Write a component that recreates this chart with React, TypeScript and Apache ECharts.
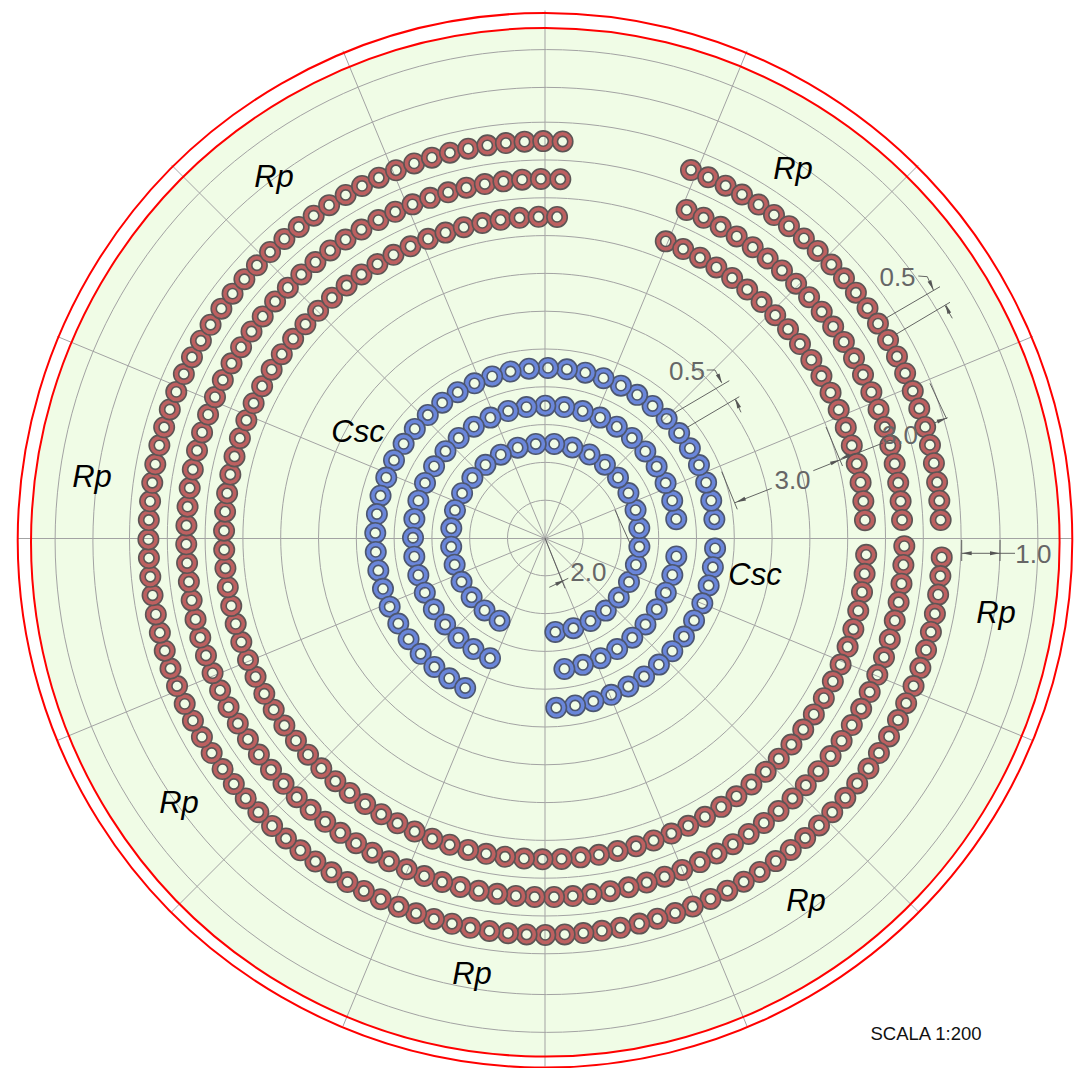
import React, { useEffect, useRef } from "react";
import * as echarts from "echarts";

// Radii are in metres-like units (one grid ring = 1.0); angles are degrees clockwise from north.
const rpOuterLongRadius = 10.5;
const rpOuterLongAngles = [92.8,95.5,98.2,101.0,103.7,106.4,109.1,111.9,114.6,117.3,120.0,122.8,125.5,128.2,130.9,133.7,136.4,139.1,141.8,144.5,147.3,150.0,152.7,155.4,158.2,160.9,163.6,166.3,169.1,171.8,174.5,177.2,180.0,182.7,185.4,188.1,190.9,193.6,196.3,199.0,201.7,204.5,207.2,209.9,212.6,215.4,218.1,220.8,223.5,226.3,229.0,231.7,234.4,237.2,239.9,242.6,245.3,248.1,250.8,253.5,256.2,258.9,261.7,264.4,267.1,269.8,272.6,275.3,278.0,280.7,283.5,286.2,288.9,291.6,294.4,297.1,299.8,302.5,305.3,308.0,310.7,313.4,316.1,318.9,321.6,324.3,327.0,329.8,332.5,335.2,337.9,340.7,343.4,346.1,348.8,351.6,354.3,357.0,359.7,2.5];
const rpMiddleLongRadius = 9.5;
const rpMiddleLongAngles = [91.3,94.3,97.3,100.3,103.3,106.4,109.4,112.4,115.4,118.4,121.4,124.4,127.4,130.5,133.5,136.5,139.5,142.5,145.5,148.5,151.5,154.5,157.6,160.6,163.6,166.6,169.6,172.6,175.6,178.6,181.7,184.7,187.7,190.7,193.7,196.7,199.7,202.7,205.8,208.8,211.8,214.8,217.8,220.8,223.8,226.8,229.8,232.9,235.9,238.9,241.9,244.9,247.9,250.9,253.9,256.9,260.0,263.0,266.0,269.0,272.0,275.0,278.0,281.0,284.1,287.1,290.1,293.1,296.1,299.1,302.1,305.1,308.1,311.2,314.2,317.2,320.2,323.2,326.2,329.2,332.3,335.3,338.3,341.3,344.3,347.3,350.3,353.3,356.3,359.3,2.4];
const rpInnerLongRadius = 8.5;
const rpInnerLongAngles = [93.0,96.4,99.7,103.1,106.5,109.8,113.2,116.5,119.9,123.3,126.6,130.0,133.4,136.7,140.1,143.5,146.8,150.2,153.6,156.9,160.3,163.6,167.0,170.4,173.7,177.1,180.5,183.8,187.2,190.6,193.9,197.3,200.6,204.0,207.4,210.7,214.1,217.5,220.8,224.2,227.6,230.9,234.3,237.7,241.0,244.4,247.7,251.1,254.5,257.8,261.2,264.6,267.9,271.3,274.7,278.0,281.4,284.7,288.1,291.5,294.8,298.2,301.6,304.9,308.3,311.7,315.0,318.4,321.8,325.1,328.5,331.8,335.2,338.6,341.9,345.3,348.7,352.0,355.4,358.8,2.1];
const rpOuterShortRadius = 10.47;
const rpOuterShortAngles = [21.6,24.3,27.1,29.8,32.6,35.3,38.0,40.8,43.5,46.3,49.0,51.7,54.5,57.2,60.0,62.7,65.4,68.2,70.9,73.7,76.4,79.1,81.9,84.6,87.4];
const rpMiddleShortRadius = 9.45;
const rpMiddleShortAngles = [23.3,26.3,29.4,32.4,35.5,38.5,41.5,44.6,47.6,50.7,53.7,56.7,59.8,62.8,65.9,68.9,71.9,75.0,78.0,81.1,84.1,87.1];
const rpInnerShortRadius = 8.47;
const rpInnerShortAngles = [22.1,25.5,28.9,32.3,35.7,39.1,42.5,45.9,49.3,52.7,56.2,59.6,63.0,66.4,69.8,73.2,76.6,80.0,83.4,86.8];

const cscOuterRadius = 4.5;
const cscOuterLongAngles = [83.7,77.3,71.0,64.6,58.2,51.9,45.5,39.1,32.7,26.4,20.0,13.6,7.3,0.9,354.5,348.2,341.8,335.4,329.0,322.7,316.3,309.9,303.6,297.2,290.8,284.4,278.1,271.7,265.3,259.0,252.6,246.2,239.8,233.5,227.1,220.7,214.4,208.1];
const cscOuterShortAngles = [93.5,99.9,106.2,112.6,119.0,125.4,131.7,138.1,144.5,150.8,157.2,163.6,169.9,176.3];
const cscMiddleRadius = 3.5;
const cscMiddleLongAngles = [81.8,73.6,65.4,57.3,49.1,40.9,32.7,24.5,16.4,8.2,0.0,351.8,343.7,335.5,327.3,319.1,311.0,302.8,294.6,286.4,278.3,270.1,261.9,253.7,245.6,237.4,229.2,221.0,212.9,204.7];
const cscMiddleShortAngles = [98.0,106.2,114.4,122.6,130.8,138.9,147.1,155.3,163.5,171.7];
const cscInnerRadius = 2.5;
const cscInnerAngles = [173.9,162.7,151.4,140.2,129.0,117.7,106.5,95.3,84.0,72.8,61.6,50.3,39.1,27.9,16.6,5.4,354.2,343.0,331.9,320.7,309.5,298.3,287.1,275.9,264.7,253.6,242.4,231.2,220.0,208.9];

const rpLabels = [[274, 176], [793, 168], [92, 476], [996, 612], [179, 802], [806, 900], [472, 973]];
const cscLabels = [[358, 431], [755, 574]];

const ringUnit = 37.8;
const dotPath = "path://M10,0A10,10,0,1,1,-10,0A10,10,0,1,1,10,0ZM5,0A5,5,0,1,0,-5,0A5,5,0,1,0,5,0Z";
const DIM = "#555555";
const DIM_TEXT = "#666666";
const FONT = "Liberation Sans";

const arc = (radius: number, angles: number[]) => angles.map((a) => [radius, a]);

function seg(x1: number, y1: number, x2: number, y2: number) {
  return { type: "line", z: 10, silent: true, shape: { x1, y1, x2, y2 }, style: { stroke: DIM, lineWidth: 0.9 } };
}
function head(tx: number, ty: number, fx: number, fy: number) {
  const dx = fx - tx, dy = fy - ty;
  const l = Math.hypot(dx, dy) || 1;
  const ux = dx / l, uy = dy / l;
  const len = 10, w = 2;
  return {
    type: "polygon", z: 10, silent: true,
    shape: { points: [[tx, ty], [tx + ux * len - uy * w, ty + uy * len + ux * w], [tx + ux * len + uy * w, ty + uy * len - ux * w]] },
    style: { fill: DIM },
  };
}
function dimText(text: string, x: number, y: number) {
  return { type: "text", z: 11, silent: true, style: { text, x, y, align: "center", verticalAlign: "middle", fontSize: 26, fontFamily: FONT, fill: DIM_TEXT } };
}
function label(text: string, x: number, y: number) {
  return { type: "text", z: 11, silent: true, style: { text, x, y, align: "center", verticalAlign: "middle", fontSize: 31, fontStyle: "italic", fontFamily: FONT, fill: "#000" } };
}

const hiddenAxisBits = { axisLine: { show: false }, axisTick: { show: false }, axisLabel: { show: false } };

export default function App() {
  const ref = useRef<HTMLDivElement>(null);
  useEffect(() => {
    const chart = echarts.init(ref.current!, undefined, { renderer: "svg" });
    const ringLine = { show: true, lineStyle: { color: "#a3a3a3", width: 1 } };
    chart.setOption({
      animation: false,
      backgroundColor: "#ffffff",
      polar: [
        { center: [545, 538.5], radius: 528 },
        { center: [545.3, 538], radius: ringUnit * 11 },
        { center: [546.5, 541], radius: [ringUnit * 12, ringUnit * 13] },
      ],
      angleAxis: [
        { polarIndex: 0, min: 0, max: 360, interval: 22.5, startAngle: 90, clockwise: true, ...hiddenAxisBits, splitLine: { show: true, lineStyle: { color: "#a3a3a3", width: 1 } } },
        { polarIndex: 1, min: 0, max: 360, startAngle: 90, clockwise: true, ...hiddenAxisBits, splitLine: { show: false } },
        { polarIndex: 2, min: 0, max: 360, startAngle: 90, clockwise: true, ...hiddenAxisBits, splitLine: { show: false } },
      ],
      radiusAxis: [
        { polarIndex: 0, min: 0, max: 1, ...hiddenAxisBits, splitLine: { show: false } },
        { polarIndex: 1, min: 0, max: 11, interval: 1, ...hiddenAxisBits, splitLine: ringLine },
        { polarIndex: 2, min: 12, max: 13, interval: 1, ...hiddenAxisBits, splitLine: ringLine },
      ],
      series: [
        {
          name: "Rp", type: "scatter", coordinateSystem: "polar", polarIndex: 1, symbol: dotPath, symbolSize: 20.4, silent: true, z: 5,
          itemStyle: { color: "#bd6060", borderColor: "#5c5555", borderWidth: 1.6, opacity: 1 },
          data: [
            ...arc(rpOuterLongRadius, rpOuterLongAngles), ...arc(rpMiddleLongRadius, rpMiddleLongAngles), ...arc(rpInnerLongRadius, rpInnerLongAngles),
            ...arc(rpOuterShortRadius, rpOuterShortAngles), ...arc(rpMiddleShortRadius, rpMiddleShortAngles), ...arc(rpInnerShortRadius, rpInnerShortAngles),
          ],
        },
        {
          name: "Csc", type: "scatter", coordinateSystem: "polar", polarIndex: 1, symbol: dotPath, symbolSize: 20.4, silent: true, z: 5,
          itemStyle: { color: "#6a86da", borderColor: "#4c5670", borderWidth: 1.6, opacity: 1 },
          data: [
            ...arc(cscOuterRadius, cscOuterLongAngles), ...arc(cscOuterRadius, cscOuterShortAngles),
            ...arc(cscMiddleRadius, cscMiddleLongAngles), ...arc(cscMiddleRadius, cscMiddleShortAngles),
            ...arc(cscInnerRadius, cscInnerAngles),
          ],
        },
      ],
      graphic: {
        elements: [
          { type: "circle", z: -1, silent: true, shape: { cx: 545.3, cy: 542.3, r: 514.3 }, style: { fill: "#f0fce6" } },
          { type: "circle", z: 8, silent: true, shape: { cx: 545.3, cy: 542.3, r: 514.3 }, style: { fill: "none", stroke: "#ff0000", lineWidth: 2 } },
          { type: "circle", z: 8, silent: true, shape: { cx: 545, cy: 540.3, r: 527.3 }, style: { fill: "none", stroke: "#ff0000", lineWidth: 2 } },

          // 0.5 (Rp)
          seg(885.7, 318.3, 940, 286.7), seg(896, 334.3, 950, 302.3), seg(945, 305.7, 952.3, 318.3),
          { type: "polyline", z: 10, silent: true, shape: { points: [[918.3, 276], [927.3, 276.7], [933.3, 290]] }, style: { fill: "none", stroke: DIM, lineWidth: 0.9 } },
          head(933.6, 290, 928.5, 279), head(945.5, 304, 950, 315),
          dimText("0.5", 897.5, 277),
          // 0.5 (Csc)
          seg(675, 412.7, 729.3, 380.7), seg(687.3, 427.3, 739.3, 396.7), seg(735, 399.3, 741, 412.3),
          { type: "polyline", z: 10, silent: true, shape: { points: [[706.7, 370], [715, 370], [721.7, 382.7]] }, style: { fill: "none", stroke: DIM, lineWidth: 0.9 } },
          head(722, 383.5, 717, 373), head(735.5, 398.5, 740, 410),
          dimText("0.5", 687, 371),
          // 3.0 (Rp)
          seg(930, 383.3, 946.7, 419), seg(826, 427, 842.5, 466), seg(846.7, 457.3, 883, 443), seg(935, 422.7, 947.7, 417.7),
          head(946.7, 418, 936, 422), head(840, 459, 850, 455),
          dimText("3.0", 900, 435),
          // 3.0 (Csc)
          seg(721.7, 471.7, 737.3, 509.3), seg(771.7, 488.3, 735, 502.7), seg(813.3, 470.7, 846.7, 457.3),
          head(736, 502.3, 746, 498.3), head(840, 459.8, 830, 463.8),
          dimText("3.0", 792.5, 480),
          // 2.0
          seg(545, 538, 565, 588.3), seg(549.3, 587.3, 568.3, 578.3), seg(615, 510, 630, 543.3),
          head(565, 580, 556, 584.2),
          dimText("2.0", 588.3, 572),
          // 1.0
          seg(961.7, 540, 961.7, 561), seg(1000, 540, 1000, 561), seg(961.7, 553.3, 1015, 553.3),
          head(961.7, 553.3, 972, 553.3), head(1000, 553.3, 990, 553.3),
          dimText("1.0", 1033.3, 553.5),

          ...rpLabels.map(([x, y]) => label("Rp", x, y)),
          ...cscLabels.map(([x, y]) => label("Csc", x, y)),
          { type: "text", z: 11, silent: true, style: { text: "SCALA 1:200", x: 926, y: 1033, align: "center", verticalAlign: "middle", fontSize: 18.5, fontFamily: FONT, fill: "#111" } },
        ],
      },
    });
    return () => chart.dispose();
  }, []);
  return <div ref={ref} style={{ position: "fixed", left: 0, top: 0, width: 1074, height: 1068 }} />;
}
